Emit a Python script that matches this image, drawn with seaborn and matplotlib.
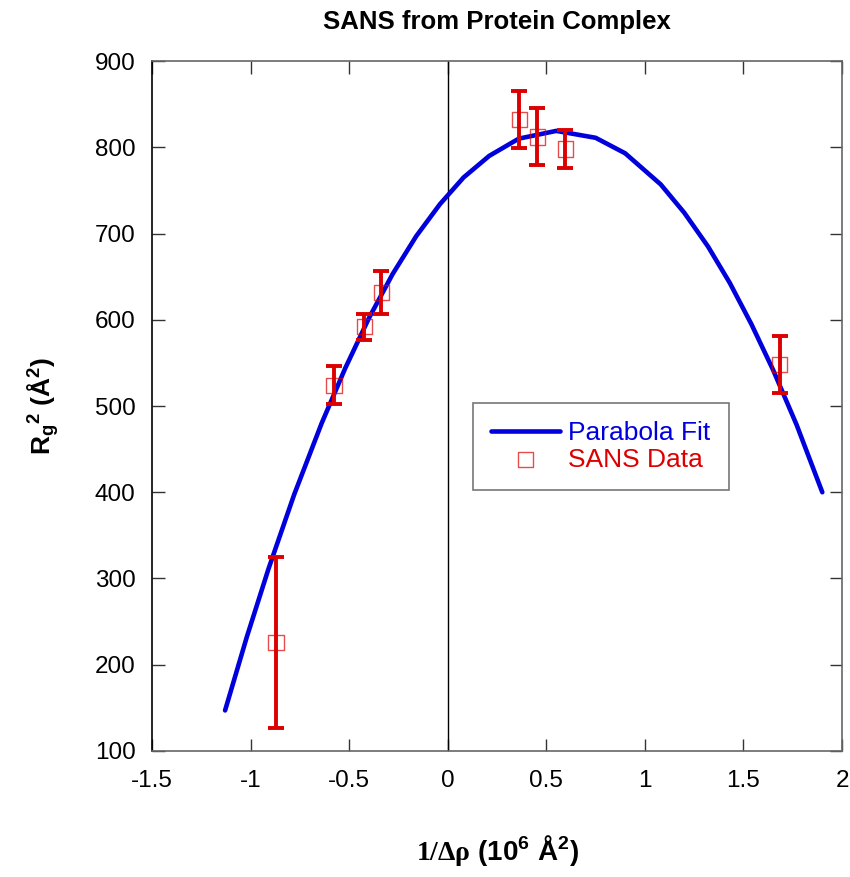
import matplotlib
matplotlib.use("Agg")
import matplotlib.pyplot as plt
import seaborn as sns
import pandas as pd

# Parabola fit
fit_x = [-1.13, -1.02, -0.91, -0.78, -0.64, -0.52, -0.40, -0.28, -0.16, -0.04,
         0.08, 0.21, 0.36, 0.55, 0.75, 0.90, 1.08, 1.20, 1.32, 1.43,
         1.54, 1.65, 1.77, 1.90]
fit_y = [147, 232, 311, 397, 480, 544, 602, 653, 697, 734,
         765, 790, 810, 819, 811, 793, 757, 724, 685, 643,
         595, 542, 478, 400]

# SANS data
data_x = [-0.872, -0.577, -0.423, -0.337, 0.362, 0.454, 0.597, 1.684]
data_y = [226, 524, 592, 632, 832, 812, 798, 548]
data_err = [99, 22, 15, 25, 33, 33, 22, 33]

title = "SANS from Protein Complex"
x_ticks = [-1.5, -1, -0.5, 0, 0.5, 1, 1.5, 2]
x_ticklabels = ["-1.5", "-1", "-0.5", "0", "0.5", "1", "1.5", "2"]
y_ticks = [100, 200, 300, 400, 500, 600, 700, 800, 900]

sns.set_style("white")
plt.rcParams['font.family'] = ['Liberation Sans', 'DejaVu Sans']
plt.rcParams['text.color'] = 'black'
plt.rcParams['axes.labelcolor'] = 'black'
plt.rcParams['mathtext.fontset'] = 'custom'
plt.rcParams['mathtext.rm'] = 'Liberation Sans:bold'
plt.rcParams['mathtext.bf'] = 'Liberation Sans:bold'
plt.rcParams['mathtext.it'] = 'Liberation Sans:bold'
plt.rcParams['mathtext.sf'] = 'Liberation Serif:bold'

BLUE = "#0000dd"
RED = "#dd0000"

fig = plt.figure(figsize=(8.5, 8.77), dpi=100)
ax = fig.add_axes([0.179, 0.1437, 0.8116, 0.7867])

fit_df = pd.DataFrame({"x": fit_x, "y": fit_y})
dat_df = pd.DataFrame({"x": data_x, "y": data_y, "err": data_err})

ax.axvline(0, color="black", lw=1.0, zorder=1)

sns.lineplot(data=fit_df, x="x", y="y", ax=ax, color=BLUE, lw=3.3,
             sort=False, label="Parabola Fit", zorder=2)
sns.scatterplot(data=dat_df, x="x", y="y", ax=ax, marker="s", s=120,
                facecolor="none", edgecolor=RED, linewidth=1.0, alpha=0.7,
                label="SANS Data", zorder=3)
ax.errorbar(data_x, data_y, yerr=data_err, fmt="none", ecolor=RED,
            elinewidth=2.8, capsize=5.5, capthick=2.8, zorder=4)

ax.set_xlim(-1.5, 2)
ax.set_ylim(100, 900)
ax.set_xticks(x_ticks)
ax.set_xticklabels(x_ticklabels)
ax.set_yticks(y_ticks)
ax.tick_params(axis="both", which="both", direction="in", length=9, width=1,
               colors="#333333", labelcolor="black", labelsize=17.5,
               top=True, right=True, bottom=True, left=True)
ax.tick_params(axis="x", pad=14)
ax.tick_params(axis="y", pad=12)
for side in ["top", "right", "bottom"]:
    ax.spines[side].set_color("#666666")
    ax.spines[side].set_linewidth(1.2)
ax.spines["left"].set_color("black")
ax.spines["left"].set_linewidth(1.2)

ax.set_title(title, fontsize=18.5, fontweight="bold", pad=23)
ax.set_xlabel(r"$\mathsf{1/\Delta\rho}$ (10$^{6}$ Å$^{2}$)", fontsize=20,
              fontweight="bold", labelpad=29)
ax.set_ylabel(r"R$_{g}$$^{2}$ (Å$^{2}$)", fontsize=19, fontweight="bold",
              labelpad=24)

leg = ax.legend(loc="upper left", bbox_to_anchor=(0.465, 0.505), fontsize=19,
                frameon=True, fancybox=False, edgecolor="#555555",
                handlelength=2.6, handletextpad=0.3, borderpad=0.7,
                labelspacing=0.1, borderaxespad=0)
leg.get_frame().set_linewidth(1.2)
texts = leg.get_texts()
texts[0].set_color(BLUE)
texts[1].set_color(RED)

fig.savefig("out.png", dpi=100)
